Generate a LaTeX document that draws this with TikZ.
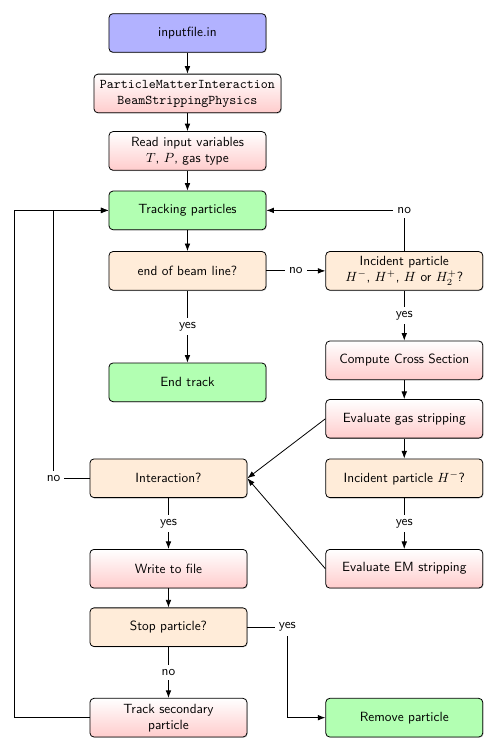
\documentclass[tikz,border=0pt]{standalone}
\usepackage{amsmath,amssymb}
\usepackage{xcolor}
\usepackage{tikz}
\usetikzlibrary{positioning,calc,arrows.meta,shadows}
\tikzset{
  flowfont/.style={font=\normalsize\sffamily},
  flowbox/.style={draw, semithick, rounded corners=3pt, align=center, inner sep=3pt,
    minimum width=117.75pt, minimum height=29pt,
    drop shadow={shadow xshift=0.6pt, shadow yshift=-0.6pt, opacity=0.35}},
  flowboxblue/.style={flowbox, fill=blue!30},
  flowboxred/.style={flowbox, top color=white, bottom color=red!20},
  flowboxgreen/.style={flowbox, fill=green!30},
  flowboxorange/.style={flowbox, fill=orange!15},
  flowarrow/.style={-{Latex[length=2mm]}, semithick},
  flowlabel/.style={fill=white, inner sep=3pt},
}

\begin{document}
\begin{tikzpicture}[flowfont]
  \useasboundingbox (0,0) rectangle (372.75pt,-564pt);

  % Main column
  \node[flowboxblue] (input) at (140.6pt,-24.75pt) {inputfile.in};
  \node[flowboxred, below=15.75pt of input, inner xsep=4.5pt] (pmi)
    {\ttfamily ParticleMatterInteraction\\\ttfamily BeamStrippingPhysics};
  \node[flowboxred, below=13.5pt of pmi] (readin)
    {Read input variables\\$T$, $P$, gas type};
  \node[flowboxgreen, below=15pt of readin] (track) {Tracking particles};
  \node[flowboxorange, below=15.75pt of track] (endbeam) {end of beam line?};
  \node[flowboxgreen, below=54pt of endbeam] (endtrack) {End track};

  % Right column
  \node[flowboxorange, right=44.25pt of endbeam] (incident)
    {Incident particle\\$H^-$, $H^+$, $H$ or $H_2^+$?};
  \node[flowboxred, below=37.5pt of incident] (cross) {Compute Cross Section};
  \node[flowboxred, below=14.25pt of cross] (gas) {Evaluate gas stripping};
  \node[flowboxorange, below=15pt of gas] (hminus) {Incident particle $H^-$?};
  \node[flowboxred, below=38.25pt of hminus] (em) {Evaluate EM stripping};

  % Interaction column
  \node[flowboxorange, left=58.5pt of hminus] (interact) {Interaction?};
  \node[flowboxred, below=38.25pt of interact] (write) {Write to file};
  \node[flowboxorange, below=14.25pt of write] (stop) {Stop particle?};
  \node[flowboxred, below=38.25pt of stop] (second) {Track secondary\\particle};
  \node[flowboxgreen, right=58.5pt of second] (remove) {Remove particle};

  % Main arrows
  \draw[flowarrow] (input) -- (pmi);
  \draw[flowarrow] (pmi) -- (readin);
  \draw[flowarrow] (readin) -- (track);
  \draw[flowarrow] (track) -- (endbeam);
  \draw[flowarrow] (endbeam) -- node[flowlabel] {yes} (endtrack);
  \draw[flowarrow] (endbeam) -- node[flowlabel] {no} (incident);
  \draw[flowarrow] (incident) -- node[flowlabel] {yes} (cross);
  \draw[flowarrow] (incident.north) |- node[flowlabel] {no} (track.east);
  \draw[flowarrow] (cross) -- (gas);
  \draw[flowarrow] (gas) -- (hminus);
  \draw[flowarrow] (hminus) -- node[flowlabel] {yes} (em);

  % Back to interaction
  \draw[flowarrow] (gas.west) -- (interact.east);
  \draw[flowarrow] (em.west) -- (interact.east);
  \draw[flowarrow] (interact) -- node[flowlabel] {yes} (write);
  \draw[flowarrow] (write) -- (stop);
  \draw[flowarrow] (stop) -- node[flowlabel] {no} (second);
  \draw[flowarrow] (stop.east) -- ++(30pt,0) node[flowlabel] {yes} |- (remove.west);

  % Loops back to tracking
  \draw[flowarrow] (interact.west) -- ++(-27pt,0) node[flowlabel] {no} |- (track.west);
  \draw[flowarrow] (second.west) -- ++(-56.25pt,0) |- (track.west);
\end{tikzpicture}
\end{document}
